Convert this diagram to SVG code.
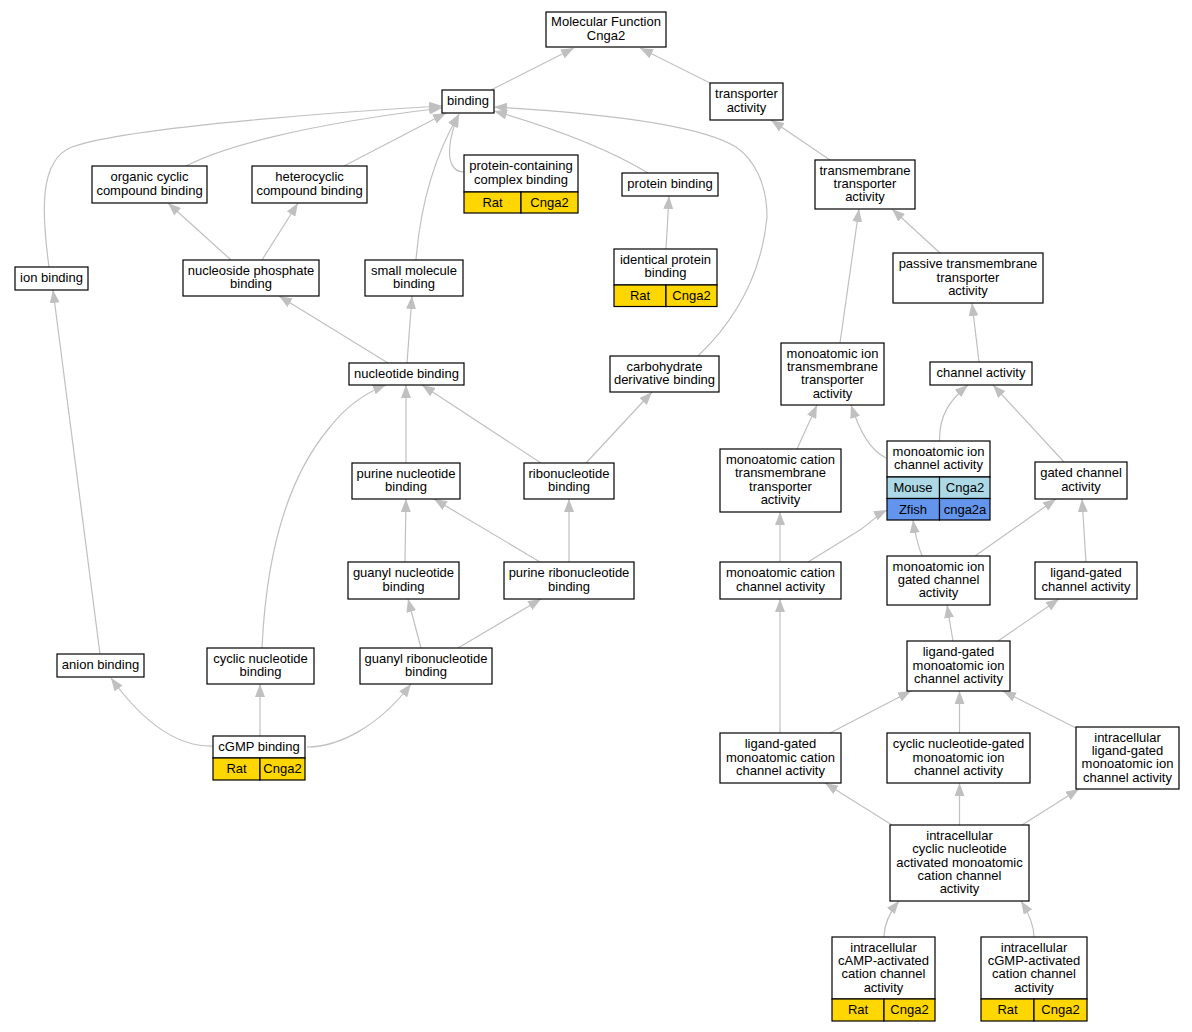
<svg xmlns="http://www.w3.org/2000/svg" width="1192" height="1032" viewBox="0 0 1192 1032">
<style>
.e path{fill:none;stroke:#c0c0c0;stroke-width:1.2;marker-end:url(#ah)}
.n rect{fill:#fff;stroke:#000;stroke-width:1.2}
.n rect.y{fill:#ffd700}
.n rect.lb{fill:#add8e6}
.n rect.cb{fill:#6495ed}
text{font-family:"Liberation Sans",Arial,sans-serif;font-size:13px;fill:#000;text-anchor:middle}
</style>
<defs>
<marker id="ah" viewBox="0 0 13 10" refX="13" refY="5" markerUnits="userSpaceOnUse" markerWidth="13" markerHeight="10" orient="auto">
<path d="M0,0 L13,5 L0,10 z" fill="#c0c0c0"/>
</marker>
</defs>
<rect width="1192" height="1032" fill="#fff"/>
<g id="edges" class="e">
<path d="M491,90 L574,48"/>
<path d="M710,83 L640,48"/>
<path d="M49,267 C42,215 38,160 72,147 C130,126 370,110 442,106"/>
<path d="M186,166 C220,148 300,125 442,108"/>
<path d="M344,166 L446,113"/>
<path d="M416,260 C420,210 432,160 459,114"/>
<path d="M464,172 C452,172 448,160 450,145 C451,135 454,125 459,114"/>
<path d="M648,173 C610,150 560,130 494,111"/>
<path d="M698,356 C720,335 760,290 767,217 C767,185 755,160 736,147 C700,125 600,113 494,107"/>
<path d="M231,260 L168,203"/>
<path d="M262,260 L298,203"/>
<path d="M388,363 L279,296"/>
<path d="M407,363 L412,296"/>
<path d="M406,463 L406,385"/>
<path d="M541,463 L422,385"/>
<path d="M586,463 L652,392"/>
<path d="M262,648 C266,560 285,480 330,427 C345,408 365,393 386,385"/>
<path d="M405,562 L406,499"/>
<path d="M540,562 L434,499"/>
<path d="M569,562 L569,499"/>
<path d="M421,648 L408,599"/>
<path d="M458,648 L541,599"/>
<path d="M100,654 L53,290"/>
<path d="M213,746 C180,747 145,725 111,678"/>
<path d="M260,736 L260,684"/>
<path d="M307,747 C340,747 380,725 411,684"/>
<path d="M830,160 L771,120"/>
<path d="M940,253 L892,209"/>
<path d="M666,249 L669,196"/>
<path d="M979,362 L972,303"/>
<path d="M840,343 L859,209"/>
<path d="M797,449 L817,405"/>
<path d="M886,458 C870,450 860,432 851,405"/>
<path d="M939.5,441 C939,415 950,400 968,385"/>
<path d="M1064,462 L993,385"/>
<path d="M780,562 L780,512"/>
<path d="M808,562 L860,530 C870,523 877,515 887,510"/>
<path d="M922,556 C918,545 915,535 913,520"/>
<path d="M975,556 L1056,499"/>
<path d="M1086,562 L1082,499"/>
<path d="M953,641 L947,605"/>
<path d="M998,641 L1059,599"/>
<path d="M780,733 L780,599"/>
<path d="M830,733 L911,691"/>
<path d="M959.5,733 L959.5,691"/>
<path d="M1076,728 L1003,691"/>
<path d="M892,825 L825,783"/>
<path d="M959.5,825 L959.5,783"/>
<path d="M1022,825 L1079,789"/>
<path d="M884,937 C884,925 890,912 899,901"/>
<path d="M1034,937 C1034,925 1028,912 1021,901"/>
</g>
<g id="mf" class="n"><rect x="546" y="12" width="120" height="35"/><text x="606" y="26.4">Molecular Function</text><text x="606" y="39.7">Cnga2</text></g>
<g id="binding" class="n"><rect x="442" y="90" width="52" height="23"/><text x="468" y="105">binding</text></g>
<g id="transporter" class="n"><rect x="710" y="83" width="73" height="37"/><text x="746.5" y="98.4">transporter</text><text x="746.5" y="111.7">activity</text></g>
<g id="organic" class="n"><rect x="92" y="166" width="115" height="37"/><text x="149.5" y="181.4">organic cyclic</text><text x="149.5" y="194.7">compound binding</text></g>
<g id="hetero" class="n"><rect x="252" y="166" width="115" height="37"/><text x="309.5" y="181.4">heterocyclic</text><text x="309.5" y="194.7">compound binding</text></g>
<g id="pcc" class="n"><rect x="464" y="155" width="114" height="37"/><text x="521" y="170.4">protein-containing</text><text x="521" y="183.7">complex binding</text><rect class="y" x="464" y="192" width="57" height="21"/><rect class="y" x="521" y="192" width="57" height="21"/><text x="492.5" y="207">Rat</text><text x="549.5" y="207">Cnga2</text></g>
<g id="protein" class="n"><rect x="622" y="173" width="96" height="23"/><text x="670" y="188">protein binding</text></g>
<g id="tmta" class="n"><rect x="815" y="160" width="100" height="49"/><text x="865" y="174.7">transmembrane</text><text x="865" y="188">transporter</text><text x="865" y="201.3">activity</text></g>
<g id="ion" class="n"><rect x="15" y="267" width="73" height="23"/><text x="51.5" y="282">ion binding</text></g>
<g id="nucleoside" class="n"><rect x="183" y="260" width="136" height="36"/><text x="251" y="274.9">nucleoside phosphate</text><text x="251" y="288.2">binding</text></g>
<g id="small" class="n"><rect x="365" y="260" width="98" height="36"/><text x="414" y="274.9">small molecule</text><text x="414" y="288.2">binding</text></g>
<g id="identical" class="n"><rect x="614" y="249" width="103" height="36"/><text x="665.5" y="263.9">identical protein</text><text x="665.5" y="277.2">binding</text><rect class="y" x="614" y="285" width="52" height="21.5"/><rect class="y" x="666" y="285" width="51" height="21.5"/><text x="640" y="300">Rat</text><text x="691.5" y="300">Cnga2</text></g>
<g id="passive" class="n"><rect x="893" y="253" width="150" height="50"/><text x="968" y="268.2">passive transmembrane</text><text x="968" y="281.5">transporter</text><text x="968" y="294.8">activity</text></g>
<g id="nucleotide" class="n"><rect x="349" y="363" width="115" height="22"/><text x="406.5" y="377.5">nucleotide binding</text></g>
<g id="carbo" class="n"><rect x="610" y="356" width="109" height="36"/><text x="664.5" y="370.9">carbohydrate</text><text x="664.5" y="384.2">derivative binding</text></g>
<g id="mitta" class="n"><rect x="781" y="343" width="103" height="62"/><text x="832.5" y="357.6">monoatomic ion</text><text x="832.5" y="370.9">transmembrane</text><text x="832.5" y="384.2">transporter</text><text x="832.5" y="397.5">activity</text></g>
<g id="channel" class="n"><rect x="930" y="362" width="102" height="23"/><text x="981" y="377">channel activity</text></g>
<g id="purine" class="n"><rect x="352" y="463" width="108" height="36"/><text x="406" y="477.9">purine nucleotide</text><text x="406" y="491.2">binding</text></g>
<g id="ribo" class="n"><rect x="524" y="463" width="90" height="36"/><text x="569" y="477.9">ribonucleotide</text><text x="569" y="491.2">binding</text></g>
<g id="mctta" class="n"><rect x="720" y="449" width="121" height="63"/><text x="780.5" y="464.1">monoatomic cation</text><text x="780.5" y="477.4">transmembrane</text><text x="780.5" y="490.7">transporter</text><text x="780.5" y="504">activity</text></g>
<g id="mica" class="n"><rect x="887" y="441" width="103" height="36"/><text x="938.5" y="455.9">monoatomic ion</text><text x="938.5" y="469.2">channel activity</text><rect class="lb" x="887" y="477" width="52.5" height="21.5"/><rect class="lb" x="939.5" y="477" width="50.5" height="21.5"/><rect class="cb" x="887" y="498.5" width="52.5" height="21.5"/><rect class="cb" x="939.5" y="498.5" width="50.5" height="21.5"/><text x="913" y="492">Mouse</text><text x="965" y="492">Cnga2</text><text x="913" y="513.5">Zfish</text><text x="965" y="513.5">cnga2a</text></g>
<g id="gated" class="n"><rect x="1035" y="462" width="92" height="37"/><text x="1081" y="477.4">gated channel</text><text x="1081" y="490.7">activity</text></g>
<g id="guanyl" class="n"><rect x="348" y="562" width="111" height="37"/><text x="403.5" y="577.4">guanyl nucleotide</text><text x="403.5" y="590.7">binding</text></g>
<g id="purribo" class="n"><rect x="504" y="562" width="130" height="37"/><text x="569" y="577.4">purine ribonucleotide</text><text x="569" y="590.7">binding</text></g>
<g id="mcca" class="n"><rect x="720" y="562" width="121" height="37"/><text x="780.5" y="577.4">monoatomic cation</text><text x="780.5" y="590.7">channel activity</text></g>
<g id="migca" class="n"><rect x="887" y="556" width="103" height="49"/><text x="938.5" y="570.7">monoatomic ion</text><text x="938.5" y="584">gated channel</text><text x="938.5" y="597.3">activity</text></g>
<g id="lgca" class="n"><rect x="1035" y="562" width="102" height="37"/><text x="1086" y="577.4">ligand-gated</text><text x="1086" y="590.7">channel activity</text></g>
<g id="lgmica" class="n"><rect x="907" y="641" width="103" height="50"/><text x="958.5" y="656.2">ligand-gated</text><text x="958.5" y="669.5">monoatomic ion</text><text x="958.5" y="682.8">channel activity</text></g>
<g id="anion" class="n"><rect x="57" y="654" width="87" height="23"/><text x="100.5" y="669">anion binding</text></g>
<g id="cyclic" class="n"><rect x="207" y="648" width="107" height="36"/><text x="260.5" y="662.9">cyclic nucleotide</text><text x="260.5" y="676.2">binding</text></g>
<g id="guanylribo" class="n"><rect x="360" y="648" width="132" height="36"/><text x="426" y="662.9">guanyl ribonucleotide</text><text x="426" y="676.2">binding</text></g>
<g id="lgmcca" class="n"><rect x="720" y="733" width="121" height="50"/><text x="780.5" y="748.2">ligand-gated</text><text x="780.5" y="761.5">monoatomic cation</text><text x="780.5" y="774.8">channel activity</text></g>
<g id="cngmica" class="n"><rect x="887" y="733" width="143" height="50"/><text x="958.5" y="748.2">cyclic nucleotide-gated</text><text x="958.5" y="761.5">monoatomic ion</text><text x="958.5" y="774.8">channel activity</text></g>
<g id="illgmica" class="n"><rect x="1076" y="727" width="103" height="62"/><text x="1127.5" y="741.6">intracellular</text><text x="1127.5" y="754.9">ligand-gated</text><text x="1127.5" y="768.2">monoatomic ion</text><text x="1127.5" y="781.5">channel activity</text></g>
<g id="cgmpb" class="n"><rect x="213" y="736" width="92" height="22"/><text x="259" y="750.5">cGMP binding</text><rect class="y" x="213" y="758" width="47" height="22"/><rect class="y" x="260" y="758" width="45" height="22"/><text x="236.5" y="773">Rat</text><text x="282.5" y="773">Cnga2</text></g>
<g id="icnamcca" class="n"><rect x="890" y="825" width="139" height="76"/><text x="959.5" y="839.9">intracellular</text><text x="959.5" y="853.2">cyclic nucleotide</text><text x="959.5" y="866.5">activated monoatomic</text><text x="959.5" y="879.8">cation channel</text><text x="959.5" y="893.1">activity</text></g>
<g id="camp" class="n"><rect x="832" y="937" width="103" height="62"/><text x="883.5" y="951.6">intracellular</text><text x="883.5" y="964.9">cAMP-activated</text><text x="883.5" y="978.2">cation channel</text><text x="883.5" y="991.5">activity</text><rect class="y" x="832" y="999" width="52" height="22"/><rect class="y" x="884" y="999" width="51" height="22"/><text x="858" y="1014">Rat</text><text x="909.5" y="1014">Cnga2</text></g>
<g id="cgmpact" class="n"><rect x="981" y="937" width="106" height="62"/><text x="1034" y="951.6">intracellular</text><text x="1034" y="964.9">cGMP-activated</text><text x="1034" y="978.2">cation channel</text><text x="1034" y="991.5">activity</text><rect class="y" x="981" y="999" width="53" height="22"/><rect class="y" x="1034" y="999" width="53" height="22"/><text x="1007.5" y="1014">Rat</text><text x="1060.5" y="1014">Cnga2</text></g>
</svg>
